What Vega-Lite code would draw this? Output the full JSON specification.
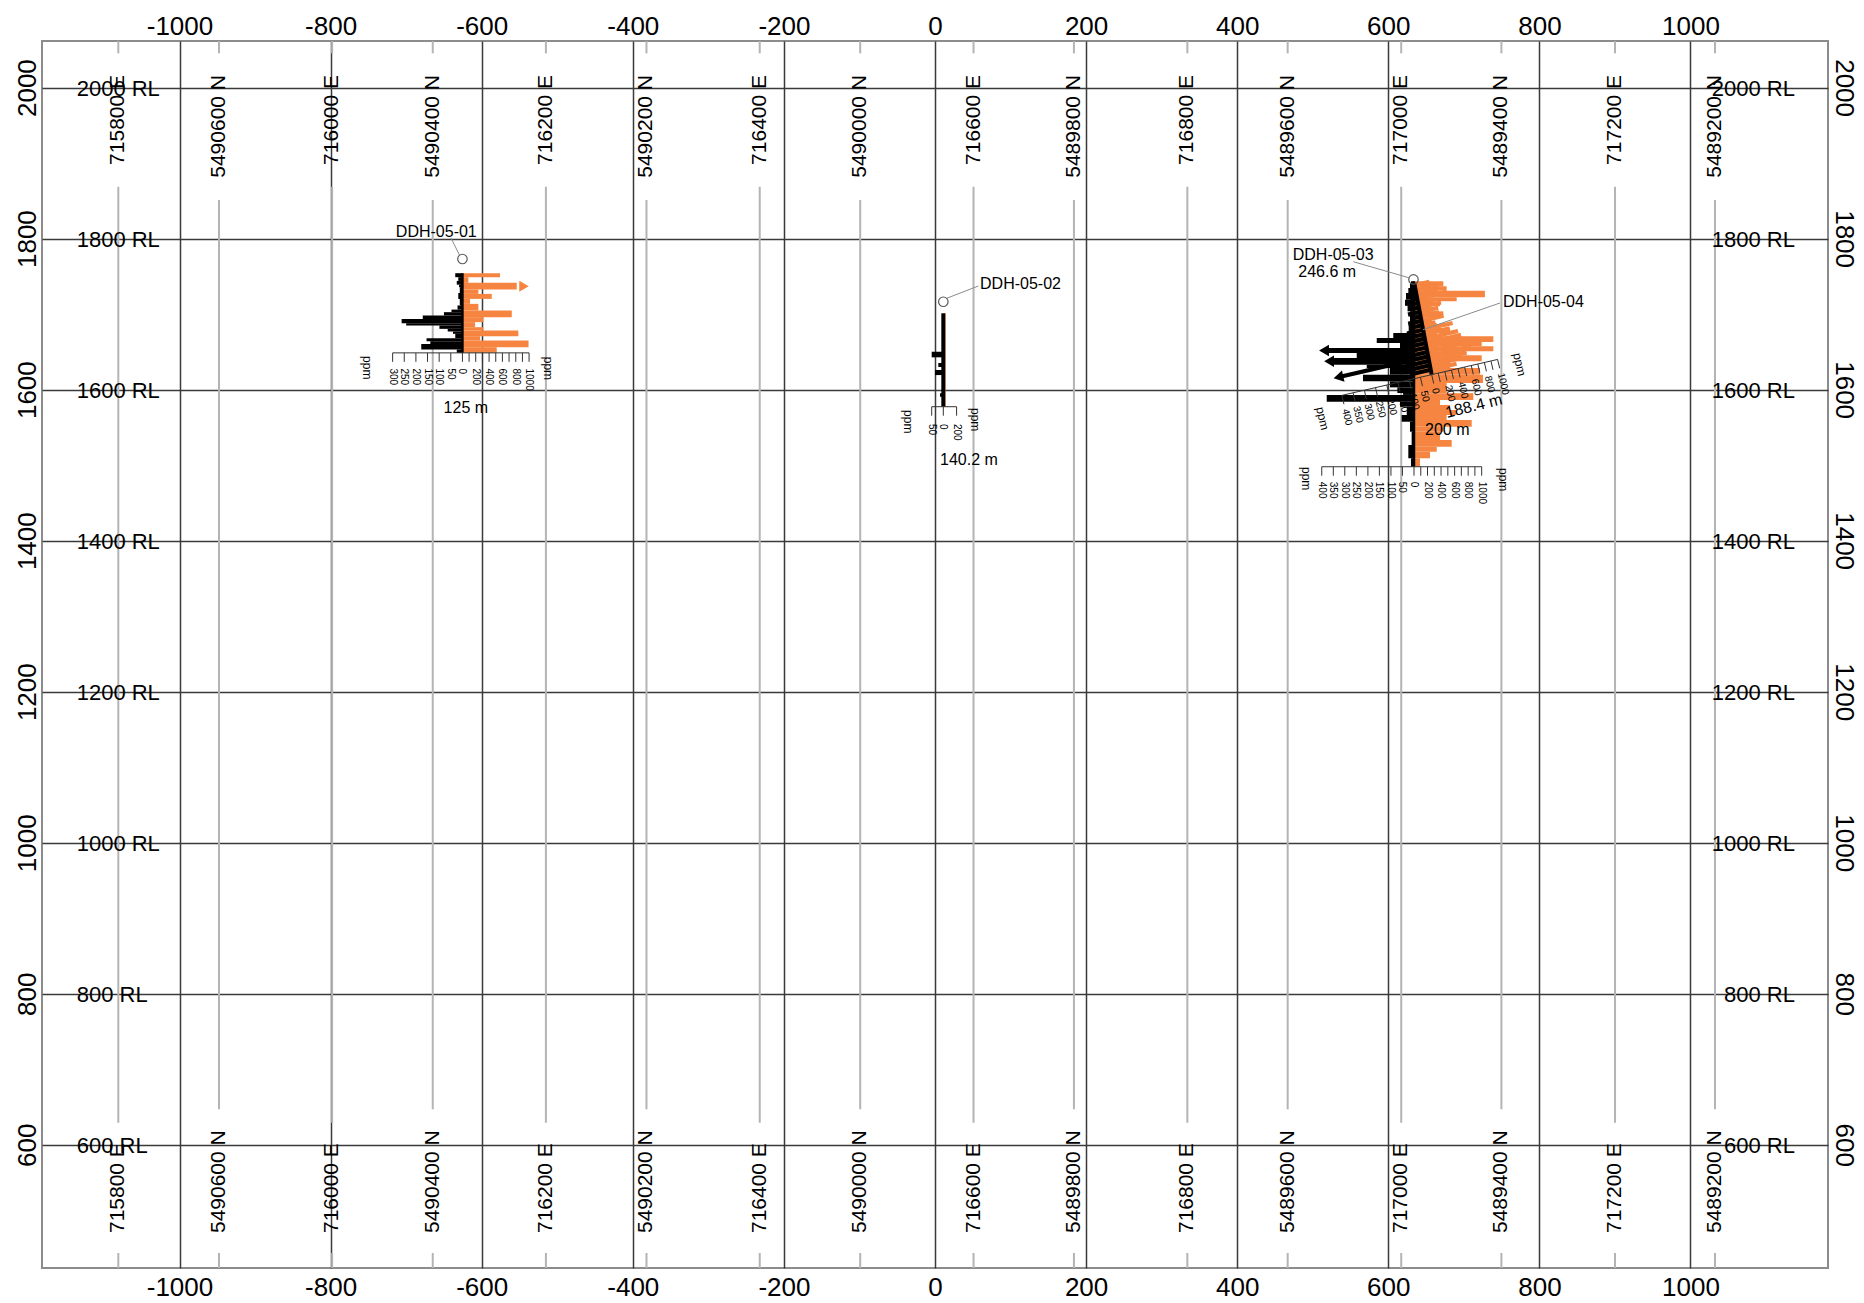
{
  "$schema": "https://vega.github.io/schema/vega-lite/v6.json",
  "width": 1786,
  "height": 1227,
  "autosize": {"type": "none"},
  "padding": {"left": 42, "top": 41, "right": 36, "bottom": 35},
  "background": "#ffffff",
  "config": {
    "font": "Liberation Sans",
    "view": {"stroke": "#8c8c8c", "strokeWidth": 2},
    "axis": {"grid": false, "ticks": false, "domain": false, "labelFont": "Liberation Sans", "labelFontSize": 26, "labelColor": "#000000", "labelFlush": false, "labelOverlap": false, "labelExpr": "'' + datum.value"},
    "text": {"font": "Liberation Sans", "color": "#000000"}
  },
  "resolve": {"axis": {"x": "independent", "y": "independent"}},
  "datasets": {
    "coord_lines": [
      {"name": "715800 E", "x": -1081.0, "y": [2061.7, 1868.7, 456.7], "y2": [2045.4, 629.2, 436.8]},
      {"name": "5490600 N", "x": -947.7, "y": [2061.7, 1851.1, 456.7], "y2": [2045.4, 646.9, 436.8]},
      {"name": "716000 E", "x": -798.0, "y": [2061.7, 1868.7, 456.7], "y2": [2045.4, 629.2, 436.8]},
      {"name": "5490400 N", "x": -664.8, "y": [2061.7, 1851.1, 456.7], "y2": [2045.4, 646.9, 436.8]},
      {"name": "716200 E", "x": -515.0, "y": [2061.7, 1868.7, 456.7], "y2": [2045.4, 629.2, 436.8]},
      {"name": "5490200 N", "x": -381.9, "y": [2061.7, 1851.1, 456.7], "y2": [2045.4, 646.9, 436.8]},
      {"name": "716400 E", "x": -232.0, "y": [2061.7, 1868.7, 456.7], "y2": [2045.4, 629.2, 436.8]},
      {"name": "5490000 N", "x": -99.0, "y": [2061.7, 1851.1, 456.7], "y2": [2045.4, 646.9, 436.8]},
      {"name": "716600 E", "x": 51.0, "y": [2061.7, 1868.7, 456.7], "y2": [2045.4, 629.2, 436.8]},
      {"name": "5489800 N", "x": 183.9, "y": [2061.7, 1851.1, 456.7], "y2": [2045.4, 646.9, 436.8]},
      {"name": "716800 E", "x": 334.0, "y": [2061.7, 1868.7, 456.7], "y2": [2045.4, 629.2, 436.8]},
      {"name": "5489600 N", "x": 466.8, "y": [2061.7, 1851.1, 456.7], "y2": [2045.4, 646.9, 436.8]},
      {"name": "717000 E", "x": 617.1, "y": [2061.7, 1868.7, 456.7], "y2": [2045.4, 629.2, 436.8]},
      {"name": "5489400 N", "x": 749.7, "y": [2061.7, 1851.1, 456.7], "y2": [2045.4, 646.9, 436.8]},
      {"name": "717200 E", "x": 900.1, "y": [2061.7, 1868.7, 456.7], "y2": [2045.4, 629.2, 436.8]},
      {"name": "5489200 N", "x": 1032.4, "y": [2061.7, 1851.1, 456.7], "y2": [2045.4, 646.9, 436.8]}
    ],
    "rl": [
      {"y": 600, "name": "600 RL"}, {"y": 800, "name": "800 RL"}, {"y": 1000, "name": "1000 RL"}, {"y": 1200, "name": "1200 RL"},
      {"y": 1400, "name": "1400 RL"}, {"y": 1600, "name": "1600 RL"}, {"y": 1800, "name": "1800 RL"}, {"y": 2000, "name": "2000 RL"}
    ],
    "bars": [
      {"hole": "DDH-05-01", "side": "left", "x": -625.5, "x2": -635.0, "y": 1754.2, "y2": 1748.9},
      {"hole": "DDH-05-01", "side": "left", "x": -625.5, "x2": -631.0, "y": 1748.9, "y2": 1744.0},
      {"hole": "DDH-05-01", "side": "left", "x": -625.5, "x2": -633.0, "y": 1744.0, "y2": 1739.0},
      {"hole": "DDH-05-01", "side": "left", "x": -625.5, "x2": -630.0, "y": 1739.0, "y2": 1735.7},
      {"hole": "DDH-05-01", "side": "left", "x": -625.5, "x2": -629.0, "y": 1735.7, "y2": 1728.0},
      {"hole": "DDH-05-01", "side": "left", "x": -625.5, "x2": -631.0, "y": 1728.0, "y2": 1720.0},
      {"hole": "DDH-05-01", "side": "left", "x": -625.5, "x2": -629.0, "y": 1720.0, "y2": 1711.5},
      {"hole": "DDH-05-01", "side": "left", "x": -625.5, "x2": -632.0, "y": 1711.5, "y2": 1706.0},
      {"hole": "DDH-05-01", "side": "left", "x": -625.5, "x2": -640.0, "y": 1706.0, "y2": 1702.6},
      {"hole": "DDH-05-01", "side": "left", "x": -625.5, "x2": -650.0, "y": 1702.6, "y2": 1698.2},
      {"hole": "DDH-05-01", "side": "left", "x": -625.5, "x2": -678.0, "y": 1698.2, "y2": 1693.7},
      {"hole": "DDH-05-01", "side": "left", "x": -625.5, "x2": -706.0, "y": 1693.7, "y2": 1688.0},
      {"hole": "DDH-05-01", "side": "left", "x": -625.5, "x2": -700.0, "y": 1688.0, "y2": 1684.9},
      {"hole": "DDH-05-01", "side": "left", "x": -625.5, "x2": -656.0, "y": 1684.9, "y2": 1680.5},
      {"hole": "DDH-05-01", "side": "left", "x": -625.5, "x2": -645.0, "y": 1680.5, "y2": 1677.0},
      {"hole": "DDH-05-01", "side": "left", "x": -625.5, "x2": -638.0, "y": 1677.0, "y2": 1673.9},
      {"hole": "DDH-05-01", "side": "left", "x": -625.5, "x2": -635.0, "y": 1673.9, "y2": 1668.2},
      {"hole": "DDH-05-01", "side": "left", "x": -625.5, "x2": -673.0, "y": 1668.2, "y2": 1664.0},
      {"hole": "DDH-05-01", "side": "left", "x": -625.5, "x2": -668.0, "y": 1664.0, "y2": 1660.6},
      {"hole": "DDH-05-01", "side": "left", "x": -625.5, "x2": -680.0, "y": 1660.6, "y2": 1653.2},
      {"hole": "DDH-05-01", "side": "left", "x": -625.5, "x2": -633.0, "y": 1653.2, "y2": 1648.7},
      {"hole": "DDH-05-01", "side": "right", "x": -625.5, "x2": -575.7, "y": 1754.2, "y2": 1748.9},
      {"hole": "DDH-05-01", "side": "right", "x": -625.5, "x2": -617.6, "y": 1748.9, "y2": 1741.4},
      {"hole": "DDH-05-01", "side": "right", "x": -625.5, "x2": -553.6, "y": 1741.4, "y2": 1732.6},
      {"hole": "DDH-05-01", "side": "right", "x": -625.5, "x2": -604.4, "y": 1732.6, "y2": 1726.8},
      {"hole": "DDH-05-01", "side": "right", "x": -625.5, "x2": -586.7, "y": 1726.8, "y2": 1720.2},
      {"hole": "DDH-05-01", "side": "right", "x": -625.5, "x2": -615.4, "y": 1720.2, "y2": 1713.6},
      {"hole": "DDH-05-01", "side": "right", "x": -625.5, "x2": -604.4, "y": 1713.6, "y2": 1704.8},
      {"hole": "DDH-05-01", "side": "right", "x": -625.5, "x2": -560.2, "y": 1704.8, "y2": 1696.0},
      {"hole": "DDH-05-01", "side": "right", "x": -625.5, "x2": -597.8, "y": 1696.0, "y2": 1689.4},
      {"hole": "DDH-05-01", "side": "right", "x": -625.5, "x2": -608.8, "y": 1689.4, "y2": 1682.7},
      {"hole": "DDH-05-01", "side": "right", "x": -625.5, "x2": -597.8, "y": 1682.7, "y2": 1678.3},
      {"hole": "DDH-05-01", "side": "right", "x": -625.5, "x2": -551.5, "y": 1678.3, "y2": 1670.8},
      {"hole": "DDH-05-01", "side": "right", "x": -625.5, "x2": -602.1, "y": 1670.8, "y2": 1665.1},
      {"hole": "DDH-05-01", "side": "right", "x": -625.5, "x2": -538.0, "y": 1665.1, "y2": 1656.3},
      {"hole": "DDH-05-01", "side": "right", "x": -625.5, "x2": -580.1, "y": 1656.3, "y2": 1648.7},
      {"hole": "DDH-05-02", "side": "right", "x": 11.0, "x2": 14.0, "y": 1701.1, "y2": 1577.4},
      {"hole": "DDH-05-02", "side": "left", "x": 11.0, "x2": -4.4, "y": 1650.2, "y2": 1642.8},
      {"hole": "DDH-05-02", "side": "left", "x": 11.0, "x2": 4.4, "y": 1635.3, "y2": 1630.0},
      {"hole": "DDH-05-02", "side": "left", "x": 11.0, "x2": 0.0, "y": 1626.0, "y2": 1619.3},
      {"hole": "DDH-05-02", "side": "left", "x": 11.0, "x2": 6.6, "y": 1595.1, "y2": 1590.6},
      {"hole": "DDH-05-03", "side": "right", "x": 634.0, "x2": 672.8, "y": 1743.5, "y2": 1736.9},
      {"hole": "DDH-05-03", "side": "right", "x": 634.0, "x2": 677.2, "y": 1736.9, "y2": 1731.0},
      {"hole": "DDH-05-03", "side": "right", "x": 634.0, "x2": 727.9, "y": 1731.0, "y2": 1722.3},
      {"hole": "DDH-05-03", "side": "right", "x": 634.0, "x2": 690.5, "y": 1722.3, "y2": 1717.0},
      {"hole": "DDH-05-03", "side": "right", "x": 634.0, "x2": 668.4, "y": 1717.0, "y2": 1710.4},
      {"hole": "DDH-05-03", "side": "right", "x": 634.0, "x2": 657.4, "y": 1710.4, "y2": 1703.7},
      {"hole": "DDH-05-03", "side": "right", "x": 634.0, "x2": 672.8, "y": 1703.7, "y2": 1695.8},
      {"hole": "DDH-05-03", "side": "right", "x": 634.0, "x2": 657.4, "y": 1695.8, "y2": 1688.2},
      {"hole": "DDH-05-03", "side": "right", "x": 634.0, "x2": 664.1, "y": 1688.2, "y2": 1681.6},
      {"hole": "DDH-05-03", "side": "right", "x": 634.0, "x2": 681.7, "y": 1681.6, "y2": 1675.0},
      {"hole": "DDH-05-03", "side": "right", "x": 634.0, "x2": 664.1, "y": 1675.0, "y2": 1670.6},
      {"hole": "DDH-05-03", "side": "right", "x": 634.0, "x2": 739.0, "y": 1670.6, "y2": 1663.1},
      {"hole": "DDH-05-03", "side": "right", "x": 634.0, "x2": 723.6, "y": 1663.1, "y2": 1657.4},
      {"hole": "DDH-05-03", "side": "right", "x": 634.0, "x2": 739.0, "y": 1657.4, "y2": 1650.8},
      {"hole": "DDH-05-03", "side": "right", "x": 634.0, "x2": 703.8, "y": 1650.8, "y2": 1645.5},
      {"hole": "DDH-05-03", "side": "right", "x": 634.0, "x2": 723.6, "y": 1645.5, "y2": 1637.5},
      {"hole": "DDH-05-03", "side": "right", "x": 634.0, "x2": 681.7, "y": 1637.5, "y2": 1628.7},
      {"hole": "DDH-05-03", "side": "right", "x": 634.0, "x2": 721.4, "y": 1628.7, "y2": 1619.8},
      {"hole": "DDH-05-03", "side": "right", "x": 634.0, "x2": 725.3, "y": 1619.8, "y2": 1608.8},
      {"hole": "DDH-05-03", "side": "right", "x": 634.0, "x2": 677.2, "y": 1608.8, "y2": 1595.2},
      {"hole": "DDH-05-03", "side": "right", "x": 634.0, "x2": 712.5, "y": 1595.2, "y2": 1586.3},
      {"hole": "DDH-05-03", "side": "right", "x": 634.0, "x2": 668.4, "y": 1586.3, "y2": 1579.7},
      {"hole": "DDH-05-03", "side": "right", "x": 634.0, "x2": 681.7, "y": 1579.7, "y2": 1573.1},
      {"hole": "DDH-05-03", "side": "right", "x": 634.0, "x2": 690.5, "y": 1573.1, "y2": 1566.4},
      {"hole": "DDH-05-03", "side": "right", "x": 634.0, "x2": 677.2, "y": 1566.4, "y2": 1559.8},
      {"hole": "DDH-05-03", "side": "right", "x": 634.0, "x2": 710.4, "y": 1559.8, "y2": 1550.9},
      {"hole": "DDH-05-03", "side": "right", "x": 634.0, "x2": 672.8, "y": 1550.9, "y2": 1544.3},
      {"hole": "DDH-05-03", "side": "right", "x": 634.0, "x2": 668.4, "y": 1544.3, "y2": 1533.3},
      {"hole": "DDH-05-03", "side": "right", "x": 634.0, "x2": 683.9, "y": 1533.3, "y2": 1524.4},
      {"hole": "DDH-05-03", "side": "right", "x": 634.0, "x2": 664.1, "y": 1524.4, "y2": 1517.8},
      {"hole": "DDH-05-03", "side": "right", "x": 634.0, "x2": 655.2, "y": 1517.8, "y2": 1509.1},
      {"hole": "DDH-05-03", "side": "right", "x": 634.0, "x2": 642.0, "y": 1509.1, "y2": 1497.9},
      {"hole": "DDH-05-03", "side": "left", "x": 634.0, "x2": 630.0, "y": 1743.5, "y2": 1741.2},
      {"hole": "DDH-05-03", "side": "left", "x": 634.0, "x2": 628.7, "y": 1741.2, "y2": 1734.6},
      {"hole": "DDH-05-03", "side": "left", "x": 634.0, "x2": 626.5, "y": 1734.6, "y2": 1728.0},
      {"hole": "DDH-05-03", "side": "left", "x": 634.0, "x2": 623.4, "y": 1728.0, "y2": 1719.1},
      {"hole": "DDH-05-03", "side": "left", "x": 634.0, "x2": 622.1, "y": 1719.1, "y2": 1711.0},
      {"hole": "DDH-05-03", "side": "left", "x": 634.0, "x2": 625.5, "y": 1711.0, "y2": 1703.7},
      {"hole": "DDH-05-03", "side": "left", "x": 634.0, "x2": 628.7, "y": 1703.7, "y2": 1690.0},
      {"hole": "DDH-05-03", "side": "left", "x": 634.0, "x2": 627.0, "y": 1690.0, "y2": 1675.0},
      {"hole": "DDH-05-03", "side": "left", "x": 634.0, "x2": 606.6, "y": 1675.0, "y2": 1668.4},
      {"hole": "DDH-05-03", "side": "left", "x": 634.0, "x2": 584.7, "y": 1668.4, "y2": 1661.8},
      {"hole": "DDH-05-03", "side": "left", "x": 634.0, "x2": 615.5, "y": 1661.8, "y2": 1655.1},
      {"hole": "DDH-05-03", "side": "left", "x": 634.0, "x2": 520.2, "y": 1655.1, "y2": 1648.5},
      {"hole": "DDH-05-03", "side": "left", "x": 634.0, "x2": 558.2, "y": 1648.5, "y2": 1641.9},
      {"hole": "DDH-05-03", "side": "left", "x": 634.0, "x2": 526.8, "y": 1641.9, "y2": 1633.0},
      {"hole": "DDH-05-03", "side": "left", "x": 634.0, "x2": 571.5, "y": 1633.0, "y2": 1628.7},
      {"hole": "DDH-05-03", "side": "left", "x": 634.0, "x2": 602.2, "y": 1628.7, "y2": 1619.8},
      {"hole": "DDH-05-03", "side": "left", "x": 634.0, "x2": 566.5, "y": 1619.8, "y2": 1611.0},
      {"hole": "DDH-05-03", "side": "left", "x": 634.0, "x2": 602.2, "y": 1611.0, "y2": 1603.0},
      {"hole": "DDH-05-03", "side": "left", "x": 634.0, "x2": 612.0, "y": 1603.0, "y2": 1595.5},
      {"hole": "DDH-05-03", "side": "left", "x": 634.0, "x2": 619.5, "y": 1595.5, "y2": 1593.0},
      {"hole": "DDH-05-03", "side": "left", "x": 634.0, "x2": 518.5, "y": 1593.0, "y2": 1584.0},
      {"hole": "DDH-05-03", "side": "left", "x": 634.0, "x2": 615.5, "y": 1584.0, "y2": 1577.4},
      {"hole": "DDH-05-03", "side": "left", "x": 634.0, "x2": 624.4, "y": 1577.4, "y2": 1566.4},
      {"hole": "DDH-05-03", "side": "left", "x": 634.0, "x2": 617.7, "y": 1566.4, "y2": 1557.5},
      {"hole": "DDH-05-03", "side": "left", "x": 634.0, "x2": 628.7, "y": 1557.5, "y2": 1544.3},
      {"hole": "DDH-05-03", "side": "left", "x": 634.0, "x2": 630.9, "y": 1544.3, "y2": 1526.7},
      {"hole": "DDH-05-03", "side": "left", "x": 634.0, "x2": 626.5, "y": 1526.7, "y2": 1509.1},
      {"hole": "DDH-05-03", "side": "left", "x": 634.0, "x2": 630.0, "y": 1509.1, "y2": 1497.9}
    ],
    "tilted": [
      {"hole": "DDH-05-04", "side": "right", "x": 635.0, "y": 1738.3, "x2": 654.4, "y2": 1742.8},
      {"hole": "DDH-05-04", "side": "right", "x": 636.1, "y": 1732.4, "x2": 670.2, "y2": 1740.2},
      {"hole": "DDH-05-04", "side": "right", "x": 637.2, "y": 1726.5, "x2": 664.5, "y2": 1732.8},
      {"hole": "DDH-05-04", "side": "right", "x": 638.3, "y": 1720.6, "x2": 677.3, "y2": 1729.6},
      {"hole": "DDH-05-04", "side": "right", "x": 639.4, "y": 1714.7, "x2": 660.9, "y2": 1719.6},
      {"hole": "DDH-05-04", "side": "right", "x": 640.5, "y": 1708.8, "x2": 669.8, "y2": 1715.5},
      {"hole": "DDH-05-04", "side": "right", "x": 641.7, "y": 1702.9, "x2": 666.1, "y2": 1708.5},
      {"hole": "DDH-05-04", "side": "right", "x": 642.8, "y": 1697.0, "x2": 667.1, "y2": 1702.6},
      {"hole": "DDH-05-04", "side": "right", "x": 643.9, "y": 1691.1, "x2": 673.1, "y2": 1697.9},
      {"hole": "DDH-05-04", "side": "right", "x": 645.0, "y": 1685.2, "x2": 662.5, "y2": 1689.3},
      {"hole": "DDH-05-04", "side": "right", "x": 646.1, "y": 1679.3, "x2": 685.1, "y2": 1688.3},
      {"hole": "DDH-05-04", "side": "right", "x": 647.2, "y": 1673.4, "x2": 681.3, "y2": 1681.3},
      {"hole": "DDH-05-04", "side": "right", "x": 648.4, "y": 1667.6, "x2": 692.2, "y2": 1677.7},
      {"hole": "DDH-05-04", "side": "right", "x": 649.5, "y": 1661.7, "x2": 696.2, "y2": 1672.5},
      {"hole": "DDH-05-04", "side": "right", "x": 650.6, "y": 1655.8, "x2": 701.2, "y2": 1667.5},
      {"hole": "DDH-05-04", "side": "right", "x": 651.7, "y": 1649.9, "x2": 690.7, "y2": 1658.9},
      {"hole": "DDH-05-04", "side": "right", "x": 652.8, "y": 1644.0, "x2": 709.3, "y2": 1657.0},
      {"hole": "DDH-05-04", "side": "right", "x": 653.9, "y": 1638.1, "x2": 702.6, "y2": 1649.3},
      {"hole": "DDH-05-04", "side": "right", "x": 655.1, "y": 1632.2, "x2": 698.9, "y2": 1642.3},
      {"hole": "DDH-05-04", "side": "right", "x": 656.2, "y": 1626.3, "x2": 690.3, "y2": 1634.2},
      {"hole": "DDH-05-04", "side": "left", "x": 635.0, "y": 1738.3, "x2": 629.1, "y2": 1736.9},
      {"hole": "DDH-05-04", "side": "left", "x": 636.1, "y": 1732.4, "x2": 628.3, "y2": 1730.6},
      {"hole": "DDH-05-04", "side": "left", "x": 637.2, "y": 1726.5, "x2": 627.5, "y2": 1724.2},
      {"hole": "DDH-05-04", "side": "left", "x": 638.3, "y": 1720.6, "x2": 629.5, "y2": 1718.6},
      {"hole": "DDH-05-04", "side": "left", "x": 639.4, "y": 1714.7, "x2": 625.8, "y2": 1711.5},
      {"hole": "DDH-05-04", "side": "left", "x": 640.5, "y": 1708.8, "x2": 628.9, "y2": 1706.1},
      {"hole": "DDH-05-04", "side": "left", "x": 641.7, "y": 1702.9, "x2": 626.1, "y2": 1699.3},
      {"hole": "DDH-05-04", "side": "left", "x": 642.8, "y": 1697.0, "x2": 630.1, "y2": 1694.1},
      {"hole": "DDH-05-04", "side": "left", "x": 643.9, "y": 1691.1, "x2": 626.4, "y2": 1687.1},
      {"hole": "DDH-05-04", "side": "left", "x": 645.0, "y": 1685.2, "x2": 630.4, "y2": 1681.9},
      {"hole": "DDH-05-04", "side": "left", "x": 646.1, "y": 1679.3, "x2": 624.7, "y2": 1674.4},
      {"hole": "DDH-05-04", "side": "left", "x": 647.2, "y": 1673.4, "x2": 628.7, "y2": 1669.2},
      {"hole": "DDH-05-04", "side": "left", "x": 648.4, "y": 1667.6, "x2": 621.1, "y2": 1661.3},
      {"hole": "DDH-05-04", "side": "left", "x": 649.5, "y": 1661.7, "x2": 626.1, "y2": 1656.3},
      {"hole": "DDH-05-04", "side": "left", "x": 650.6, "y": 1655.8, "x2": 611.6, "y2": 1646.8},
      {"hole": "DDH-05-04", "side": "left", "x": 651.7, "y": 1649.9, "x2": 622.5, "y2": 1643.1},
      {"hole": "DDH-05-04", "side": "left", "x": 652.8, "y": 1644.0, "x2": 537.9, "y2": 1617.4},
      {"hole": "DDH-05-04", "side": "left", "x": 653.9, "y": 1638.1, "x2": 620.8, "y2": 1630.4},
      {"hole": "DDH-05-04", "side": "left", "x": 655.1, "y": 1632.2, "x2": 625.8, "y2": 1625.5},
      {"hole": "DDH-05-04", "side": "left", "x": 656.2, "y": 1626.3, "x2": 628.9, "y2": 1620.0}
    ],
    "traces": [
      {"hole": "DDH-05-01", "x": -625.5, "y": 1754.2, "x2": -625.5, "y2": 1648.7},
      {"hole": "DDH-05-02", "x": 11.0, "y": 1701.1, "x2": 11.0, "y2": 1577.4},
      {"hole": "DDH-05-03", "x": 634.0, "y": 1743.5, "x2": 634.0, "y2": 1497.9},
      {"hole": "DDH-05-04", "x": 634.4, "y": 1741.2, "x2": 657.4, "y2": 1619.8}
    ],
    "arrows": [
      {"hole": "DDH-05-01", "side": "right", "x": -544.0, "y": 1737.0},
      {"hole": "DDH-05-03", "side": "left", "x": 514.9, "y": 1651.8},
      {"hole": "DDH-05-03", "side": "left", "x": 521.6, "y": 1637.5},
      {"hole": "DDH-05-04", "side": "left", "x": 534.0, "y": 1616.5}
    ],
    "collars": [
      {"hole": "DDH-05-01", "x": -625.5, "y": 1773.0},
      {"hole": "DDH-05-02", "x": 11.0, "y": 1716.4},
      {"hole": "DDH-05-03", "x": 633.3, "y": 1745.9}
    ],
    "leaders": [
      {"hole": "DDH-05-01", "x": -640.7, "y": 1800.8, "x2": -629.4, "y2": 1778.3},
      {"hole": "DDH-05-02", "x": 15.5, "y": 1721.0, "x2": 57.3, "y2": 1737.2},
      {"hole": "DDH-05-03", "x": 553.7, "y": 1769.4, "x2": 628.7, "y2": 1747.8},
      {"hole": "DDH-05-04", "x": 747.8, "y": 1714.7, "x2": 645.9, "y2": 1679.4}
    ],
    "ticks": [
      {"hole": "DDH-05-01", "x": -717.9, "y": 1648.7, "x2": -537.3, "y2": 1648.7},
      {"hole": "DDH-05-01", "x": -625.5, "y": 1648.7, "x2": -625.5, "y2": 1636.8},
      {"hole": "DDH-05-01", "x": -640.9, "y": 1648.7, "x2": -640.9, "y2": 1636.8},
      {"hole": "DDH-05-01", "x": -656.3, "y": 1648.7, "x2": -656.3, "y2": 1636.8},
      {"hole": "DDH-05-01", "x": -671.7, "y": 1648.7, "x2": -671.7, "y2": 1636.8},
      {"hole": "DDH-05-01", "x": -687.1, "y": 1648.7, "x2": -687.1, "y2": 1636.8},
      {"hole": "DDH-05-01", "x": -702.5, "y": 1648.7, "x2": -702.5, "y2": 1636.8},
      {"hole": "DDH-05-01", "x": -717.9, "y": 1648.7, "x2": -717.9, "y2": 1636.8},
      {"hole": "DDH-05-01", "x": -616.7, "y": 1648.7, "x2": -616.7, "y2": 1636.8},
      {"hole": "DDH-05-01", "x": -607.9, "y": 1648.7, "x2": -607.9, "y2": 1636.8},
      {"hole": "DDH-05-01", "x": -599.0, "y": 1648.7, "x2": -599.0, "y2": 1636.8},
      {"hole": "DDH-05-01", "x": -590.2, "y": 1648.7, "x2": -590.2, "y2": 1636.8},
      {"hole": "DDH-05-01", "x": -581.4, "y": 1648.7, "x2": -581.4, "y2": 1636.8},
      {"hole": "DDH-05-01", "x": -572.6, "y": 1648.7, "x2": -572.6, "y2": 1636.8},
      {"hole": "DDH-05-01", "x": -563.8, "y": 1648.7, "x2": -563.8, "y2": 1636.8},
      {"hole": "DDH-05-01", "x": -554.9, "y": 1648.7, "x2": -554.9, "y2": 1636.8},
      {"hole": "DDH-05-01", "x": -546.1, "y": 1648.7, "x2": -546.1, "y2": 1636.8},
      {"hole": "DDH-05-01", "x": -537.3, "y": 1648.7, "x2": -537.3, "y2": 1636.8},
      {"hole": "DDH-05-02", "x": -4.4, "y": 1577.4, "x2": 28.6, "y2": 1577.4},
      {"hole": "DDH-05-02", "x": -4.4, "y": 1577.4, "x2": -4.4, "y2": 1565.5},
      {"hole": "DDH-05-02", "x": 11.0, "y": 1577.4, "x2": 11.0, "y2": 1565.5},
      {"hole": "DDH-05-02", "x": 28.6, "y": 1577.4, "x2": 28.6, "y2": 1565.5},
      {"hole": "DDH-05-03", "x": 511.9, "y": 1497.9, "x2": 723.6, "y2": 1497.9},
      {"hole": "DDH-05-03", "x": 634.0, "y": 1497.9, "x2": 634.0, "y2": 1486.0},
      {"hole": "DDH-05-03", "x": 618.7, "y": 1497.9, "x2": 618.7, "y2": 1486.0},
      {"hole": "DDH-05-03", "x": 603.5, "y": 1497.9, "x2": 603.5, "y2": 1486.0},
      {"hole": "DDH-05-03", "x": 588.2, "y": 1497.9, "x2": 588.2, "y2": 1486.0},
      {"hole": "DDH-05-03", "x": 573.0, "y": 1497.9, "x2": 573.0, "y2": 1486.0},
      {"hole": "DDH-05-03", "x": 557.7, "y": 1497.9, "x2": 557.7, "y2": 1486.0},
      {"hole": "DDH-05-03", "x": 542.4, "y": 1497.9, "x2": 542.4, "y2": 1486.0},
      {"hole": "DDH-05-03", "x": 527.2, "y": 1497.9, "x2": 527.2, "y2": 1486.0},
      {"hole": "DDH-05-03", "x": 511.9, "y": 1497.9, "x2": 511.9, "y2": 1486.0},
      {"hole": "DDH-05-03", "x": 643.0, "y": 1497.9, "x2": 643.0, "y2": 1486.0},
      {"hole": "DDH-05-03", "x": 651.9, "y": 1497.9, "x2": 651.9, "y2": 1486.0},
      {"hole": "DDH-05-03", "x": 660.9, "y": 1497.9, "x2": 660.9, "y2": 1486.0},
      {"hole": "DDH-05-03", "x": 669.8, "y": 1497.9, "x2": 669.8, "y2": 1486.0},
      {"hole": "DDH-05-03", "x": 678.8, "y": 1497.9, "x2": 678.8, "y2": 1486.0},
      {"hole": "DDH-05-03", "x": 687.8, "y": 1497.9, "x2": 687.8, "y2": 1486.0},
      {"hole": "DDH-05-03", "x": 696.7, "y": 1497.9, "x2": 696.7, "y2": 1486.0},
      {"hole": "DDH-05-03", "x": 705.7, "y": 1497.9, "x2": 705.7, "y2": 1486.0},
      {"hole": "DDH-05-03", "x": 714.6, "y": 1497.9, "x2": 714.6, "y2": 1486.0},
      {"hole": "DDH-05-03", "x": 723.6, "y": 1497.9, "x2": 723.6, "y2": 1486.0},
      {"hole": "DDH-05-04", "x": 538.6, "y": 1592.4, "x2": 744.7, "y2": 1640.0},
      {"hole": "DDH-05-04", "x": 657.4, "y": 1619.8, "x2": 660.1, "y2": 1608.1},
      {"hole": "DDH-05-04", "x": 666.1, "y": 1621.8, "x2": 668.8, "y2": 1610.1},
      {"hole": "DDH-05-04", "x": 674.9, "y": 1623.8, "x2": 677.6, "y2": 1612.1},
      {"hole": "DDH-05-04", "x": 683.6, "y": 1625.9, "x2": 686.3, "y2": 1614.2},
      {"hole": "DDH-05-04", "x": 692.3, "y": 1627.9, "x2": 695.0, "y2": 1616.2},
      {"hole": "DDH-05-04", "x": 701.0, "y": 1629.9, "x2": 703.7, "y2": 1618.2},
      {"hole": "DDH-05-04", "x": 709.8, "y": 1631.9, "x2": 712.5, "y2": 1620.2},
      {"hole": "DDH-05-04", "x": 718.5, "y": 1633.9, "x2": 721.2, "y2": 1622.2},
      {"hole": "DDH-05-04", "x": 727.2, "y": 1635.9, "x2": 729.9, "y2": 1624.2},
      {"hole": "DDH-05-04", "x": 735.9, "y": 1637.9, "x2": 738.6, "y2": 1626.2},
      {"hole": "DDH-05-04", "x": 744.7, "y": 1640.0, "x2": 747.4, "y2": 1628.3},
      {"hole": "DDH-05-04", "x": 642.5, "y": 1616.4, "x2": 645.2, "y2": 1604.7},
      {"hole": "DDH-05-04", "x": 627.7, "y": 1612.9, "x2": 630.4, "y2": 1601.2},
      {"hole": "DDH-05-04", "x": 612.8, "y": 1609.5, "x2": 615.5, "y2": 1597.8},
      {"hole": "DDH-05-04", "x": 598.0, "y": 1606.1, "x2": 600.7, "y2": 1594.4},
      {"hole": "DDH-05-04", "x": 583.1, "y": 1602.6, "x2": 585.8, "y2": 1590.9},
      {"hole": "DDH-05-04", "x": 568.3, "y": 1599.2, "x2": 571.0, "y2": 1587.5},
      {"hole": "DDH-05-04", "x": 553.4, "y": 1595.8, "x2": 556.1, "y2": 1584.1},
      {"hole": "DDH-05-04", "x": 538.6, "y": 1592.4, "x2": 541.3, "y2": 1580.7}
    ],
    "tick_labels": [
      {"hole": "DDH-05-01", "text": "0", "x": -625.5, "y": 1628.0},
      {"hole": "DDH-05-01", "text": "50", "x": -640.9, "y": 1628.0},
      {"hole": "DDH-05-01", "text": "100", "x": -656.3, "y": 1628.0},
      {"hole": "DDH-05-01", "text": "150", "x": -671.7, "y": 1628.0},
      {"hole": "DDH-05-01", "text": "200", "x": -687.1, "y": 1628.0},
      {"hole": "DDH-05-01", "text": "250", "x": -702.5, "y": 1628.0},
      {"hole": "DDH-05-01", "text": "300", "x": -717.9, "y": 1628.0},
      {"hole": "DDH-05-01", "text": "200", "x": -607.9, "y": 1628.0},
      {"hole": "DDH-05-01", "text": "400", "x": -590.2, "y": 1628.0},
      {"hole": "DDH-05-01", "text": "600", "x": -572.6, "y": 1628.0},
      {"hole": "DDH-05-01", "text": "800", "x": -554.9, "y": 1628.0},
      {"hole": "DDH-05-01", "text": "1000", "x": -537.3, "y": 1628.0},
      {"hole": "DDH-05-02", "text": "50", "x": -4.4, "y": 1554.5},
      {"hole": "DDH-05-02", "text": "0", "x": 11.0, "y": 1554.5},
      {"hole": "DDH-05-02", "text": "200", "x": 28.6, "y": 1554.5},
      {"hole": "DDH-05-03", "text": "0", "x": 634.0, "y": 1478.0},
      {"hole": "DDH-05-03", "text": "50", "x": 618.7, "y": 1478.0},
      {"hole": "DDH-05-03", "text": "100", "x": 603.5, "y": 1478.0},
      {"hole": "DDH-05-03", "text": "150", "x": 588.2, "y": 1478.0},
      {"hole": "DDH-05-03", "text": "200", "x": 573.0, "y": 1478.0},
      {"hole": "DDH-05-03", "text": "250", "x": 557.7, "y": 1478.0},
      {"hole": "DDH-05-03", "text": "300", "x": 542.4, "y": 1478.0},
      {"hole": "DDH-05-03", "text": "350", "x": 527.2, "y": 1478.0},
      {"hole": "DDH-05-03", "text": "400", "x": 511.9, "y": 1478.0},
      {"hole": "DDH-05-03", "text": "200", "x": 651.9, "y": 1478.0},
      {"hole": "DDH-05-03", "text": "400", "x": 669.8, "y": 1478.0},
      {"hole": "DDH-05-03", "text": "600", "x": 687.8, "y": 1478.0},
      {"hole": "DDH-05-03", "text": "800", "x": 705.7, "y": 1478.0},
      {"hole": "DDH-05-03", "text": "1000", "x": 723.6, "y": 1478.0}
    ],
    "tick_labels_tilted": [
      {"hole": "DDH-05-04", "text": "0", "x": 661.6, "y": 1601.8},
      {"hole": "DDH-05-04", "text": "200", "x": 679.1, "y": 1605.8},
      {"hole": "DDH-05-04", "text": "400", "x": 696.5, "y": 1609.9},
      {"hole": "DDH-05-04", "text": "600", "x": 714.0, "y": 1613.9},
      {"hole": "DDH-05-04", "text": "800", "x": 731.4, "y": 1617.9},
      {"hole": "DDH-05-04", "text": "1000", "x": 748.9, "y": 1622.0},
      {"hole": "DDH-05-04", "text": "50", "x": 646.7, "y": 1598.4},
      {"hole": "DDH-05-04", "text": "100", "x": 631.9, "y": 1594.9},
      {"hole": "DDH-05-04", "text": "150", "x": 617.0, "y": 1591.5},
      {"hole": "DDH-05-04", "text": "200", "x": 602.2, "y": 1588.1},
      {"hole": "DDH-05-04", "text": "250", "x": 587.3, "y": 1584.6},
      {"hole": "DDH-05-04", "text": "300", "x": 572.5, "y": 1581.2},
      {"hole": "DDH-05-04", "text": "350", "x": 557.6, "y": 1577.8},
      {"hole": "DDH-05-04", "text": "400", "x": 542.8, "y": 1574.4}
    ],
    "units": [
      {"hole": "DDH-05-01", "x": -752.2, "y": 1644.5},
      {"hole": "DDH-05-01", "x": -512.9, "y": 1643.6},
      {"hole": "DDH-05-02", "x": -35.3, "y": 1573.0},
      {"hole": "DDH-05-02", "x": 53.0, "y": 1575.7},
      {"hole": "DDH-05-03", "x": 491.0, "y": 1497.6},
      {"hole": "DDH-05-03", "x": 751.8, "y": 1496.2}
    ],
    "units_tilted": [
      {"hole": "DDH-05-04", "x": 770.3, "y": 1648.5},
      {"hole": "DDH-05-04", "x": 509.6, "y": 1577.0}
    ],
    "labels_center": [
      {"text": "DDH-05-01", "x": -660.1, "y": 1802.5},
      {"text": "125 m", "x": -621.0, "y": 1568.7}
    ],
    "labels_left": [
      {"text": "DDH-05-02", "x": 59.6, "y": 1732.9},
      {"text": "140.2 m", "x": 6.6, "y": 1500.2},
      {"text": "DDH-05-03", "x": 473.5, "y": 1771.7},
      {"text": "246.6 m", "x": 480.9, "y": 1749.6},
      {"text": "DDH-05-04", "x": 751.8, "y": 1709.4},
      {"text": "200 m", "x": 648.6, "y": 1539.9}
    ],
    "labels_tilted": [
      {"text": "188.4 m", "x": 677.7, "y": 1562.5}
    ]
  },
  "layer": [
    {
      "data": {"name": "coord_lines"},
      "transform": [{"flatten": ["y", "y2"]}],
      "mark": {"type": "rule", "stroke": "#b4b4b4", "strokeWidth": 2},
      "encoding": {
        "x": {
          "field": "x", "type": "quantitative",
          "scale": {"domain": [-1182, 1182], "nice": false, "zero": false},
          "axis": {"orient": "top", "values": [-1000, -800, -600, -400, -200, 0, 200, 400, 600, 800, 1000], "grid": true, "gridColor": "#3a3a3a", "gridWidth": 1.5, "gridOpacity": 1, "labelPadding": 7, "labelBaseline": "alphabetic", "labelAlign": "center", "title": null}
        },
        "y": {
          "field": "y", "type": "quantitative",
          "scale": {"domain": [436.8, 2061.7], "nice": false, "zero": false},
          "axis": {"orient": "left", "values": [600, 800, 1000, 1200, 1400, 1600, 1800, 2000], "grid": true, "gridColor": "#3a3a3a", "gridWidth": 1.5, "gridOpacity": 1, "labelAngle": 270, "labelAlign": "center", "labelBaseline": "alphabetic", "labelPadding": 7, "title": null}
        },
        "y2": {"field": "y2"}
      }
    },
    {
      "data": {"name": "coord_lines"},
      "mark": {"type": "text", "angle": 270, "align": "right", "baseline": "middle", "fontSize": 21},
      "encoding": {
        "x": {"field": "x", "type": "quantitative", "axis": {"orient": "bottom", "values": [-1000, -800, -600, -400, -200, 0, 200, 400, 600, 800, 1000], "grid": false, "labelPadding": 6, "labelBaseline": "top", "labelAlign": "center", "title": null}},
        "y": {"datum": 2016.7, "type": "quantitative", "axis": null},
        "text": {"field": "name", "type": "nominal"}
      }
    },
    {
      "data": {"name": "coord_lines"},
      "mark": {"type": "text", "angle": 270, "align": "left", "baseline": "middle", "fontSize": 21},
      "encoding": {
        "x": {"field": "x", "type": "quantitative", "axis": null},
        "y": {"datum": 483.1, "type": "quantitative", "axis": null},
        "text": {"field": "name", "type": "nominal"}
      }
    },
    {
      "data": {"name": "rl"},
      "mark": {"type": "text", "align": "left", "baseline": "middle", "fontSize": 22, "dy": 1},
      "encoding": {
        "x": {"datum": -1136.1, "type": "quantitative", "axis": null},
        "y": {"field": "y", "type": "quantitative", "axis": {"orient": "right", "values": [600, 800, 1000, 1200, 1400, 1600, 1800, 2000], "grid": false, "labelAngle": 90, "labelAlign": "center", "labelBaseline": "alphabetic", "labelPadding": 7, "title": null}},
        "text": {"field": "name", "type": "nominal"}
      }
    },
    {
      "data": {"name": "rl"},
      "mark": {"type": "text", "align": "right", "baseline": "middle", "fontSize": 22, "dy": 1},
      "encoding": {
        "x": {"datum": 1138.3, "type": "quantitative", "axis": null},
        "y": {"field": "y", "type": "quantitative", "axis": null},
        "text": {"field": "name", "type": "nominal"}
      }
    },
    {
      "encoding": {
        "x": {"field": "x", "type": "quantitative", "axis": null},
        "y": {"field": "y", "type": "quantitative", "axis": null}
      },
      "layer": [
        {
          "data": {"name": "bars"},
          "mark": {"type": "rect"},
          "encoding": {
            "x2": {"field": "x2"},
            "y2": {"field": "y2"},
            "color": {"field": "side", "type": "nominal", "scale": {"domain": ["left", "right"], "range": ["#000000", "#f58540"]}, "legend": null}
          }
        },
        {
          "data": {"name": "tilted"},
          "mark": {"type": "rule", "strokeWidth": 4.2},
          "encoding": {
            "x2": {"field": "x2"},
            "y2": {"field": "y2"},
            "color": {"field": "side", "type": "nominal", "legend": null}
          }
        },
        {
          "data": {"name": "traces"},
          "transform": [{"filter": "datum.hole === 'DDH-05-02' || datum.hole === 'DDH-05-04'"}],
          "mark": {"type": "rule", "stroke": "#000000", "strokeWidth": 4},
          "encoding": {"x2": {"field": "x2"}, "y2": {"field": "y2"}}
        },
        {
          "data": {"name": "traces"},
          "transform": [{"filter": "datum.hole === 'DDH-05-01' || datum.hole === 'DDH-05-03'"}],
          "mark": {"type": "rule", "stroke": "#000000", "strokeWidth": 2.5},
          "encoding": {"x2": {"field": "x2"}, "y2": {"field": "y2"}}
        },
        {
          "data": {"name": "arrows"},
          "transform": [{"filter": "datum.side === 'right'"}],
          "mark": {"type": "point", "shape": "triangle-right", "filled": true, "size": 120, "opacity": 1},
          "encoding": {"color": {"field": "side", "type": "nominal", "legend": null}}
        },
        {
          "data": {"name": "arrows"},
          "transform": [{"filter": "datum.side === 'left' && datum.hole === 'DDH-05-03'"}],
          "mark": {"type": "point", "shape": "triangle-left", "filled": true, "size": 130, "opacity": 1},
          "encoding": {"color": {"field": "side", "type": "nominal", "legend": null}}
        },
        {
          "data": {"name": "arrows"},
          "transform": [{"filter": "datum.hole === 'DDH-05-04'"}],
          "mark": {"type": "point", "shape": "triangle-left", "filled": true, "size": 130, "opacity": 1, "angle": -13},
          "encoding": {"color": {"field": "side", "type": "nominal", "legend": null}}
        },
        {
          "data": {"name": "collars"},
          "mark": {"type": "point", "shape": "circle", "filled": false, "size": 90, "stroke": "#5a5a5a", "strokeWidth": 1.2, "opacity": 1}
        },
        {
          "data": {"name": "leaders"},
          "mark": {"type": "rule", "stroke": "#8a8a8a", "strokeWidth": 1},
          "encoding": {"x2": {"field": "x2"}, "y2": {"field": "y2"}}
        },
        {
          "data": {"name": "ticks"},
          "mark": {"type": "rule", "stroke": "#333333", "strokeWidth": 1},
          "encoding": {"x2": {"field": "x2"}, "y2": {"field": "y2"}}
        },
        {
          "data": {"name": "tick_labels"},
          "mark": {"type": "text", "angle": 90, "align": "left", "baseline": "middle", "fontSize": 10},
          "encoding": {"text": {"field": "text", "type": "nominal"}}
        },
        {
          "data": {"name": "tick_labels_tilted"},
          "mark": {"type": "text", "angle": 77, "align": "left", "baseline": "middle", "fontSize": 10},
          "encoding": {"text": {"field": "text", "type": "nominal"}}
        },
        {
          "data": {"name": "units"},
          "mark": {"type": "text", "angle": 90, "align": "left", "baseline": "middle", "fontSize": 12, "text": "ppm"}
        },
        {
          "data": {"name": "units_tilted"},
          "mark": {"type": "text", "angle": 77, "align": "left", "baseline": "middle", "fontSize": 12, "text": "ppm"}
        },
        {
          "data": {"name": "labels_center"},
          "mark": {"type": "text", "align": "center", "baseline": "alphabetic", "fontSize": 16},
          "encoding": {"text": {"field": "text", "type": "nominal"}}
        },
        {
          "data": {"name": "labels_left"},
          "mark": {"type": "text", "align": "left", "baseline": "alphabetic", "fontSize": 16},
          "encoding": {"text": {"field": "text", "type": "nominal"}}
        },
        {
          "data": {"name": "labels_tilted"},
          "mark": {"type": "text", "align": "left", "baseline": "alphabetic", "fontSize": 16, "angle": -14},
          "encoding": {"text": {"field": "text", "type": "nominal"}}
        }
      ]
    }
  ]
}
